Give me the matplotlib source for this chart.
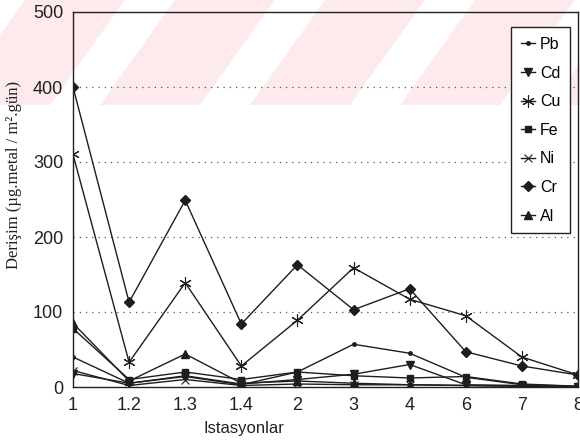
import matplotlib
matplotlib.use("Agg")
import matplotlib.pyplot as plt
from matplotlib.patches import Polygon, Rectangle

# Stations on the x axis (categorical, equally spaced)
stations = ['1', '1.2', '1.3', '1.4', '2', '3', '4', '6', '7', '8']

# Deposition values per metal (ug metal / m2 day)
pb = [40, 5, 14, 3, 20, 57, 45, 13, 3, 1]
cd = [18, 5, 15, 4, 10, 17, 30, 3, 2, 0]
cu = [310, 33, 139, 28, 89, 159, 117, 95, 40, 16]
fe = [78, 10, 20, 10, 20, 15, 12, 14, 4, 1]
ni = [22, 2, 10, 2, 4, 3, 3, 2, 1, 0]
cr = [400, 113, 249, 84, 163, 103, 131, 47, 28, 16]
al = [85, 8, 44, 5, 8, 5, 3, 2, 1, 0]

y_ticks = [0, 100, 200, 300, 400, 500]

fig = plt.figure(figsize=(5.8, 4.44), dpi=100)

# faint pink diagonal stripes across the top of the page
bg = fig.add_axes([0, 0, 1, 1], zorder=-1)
bg.set_xlim(0, 580)
bg.set_ylim(444, 0)
bg.axis('off')
bg.add_patch(Rectangle((0, 0), 580, 105, color='#fdeaec', lw=0))
for x0 in range(-100, 700, 150):
    bg.add_patch(Polygon([(x0, 105), (x0 + 50, 105), (x0 + 125, 0), (x0 + 75, 0)],
                         closed=True, color='white', lw=0))

ax = fig.add_axes([73 / 580, 1 - 387 / 444, 505 / 580, 375 / 444])
ax.patch.set_alpha(0)

xs = list(range(len(stations)))
line_kw = dict(color='#1e1e1e', lw=1.0, mec='#1e1e1e', mfc='#1e1e1e')
ax.plot(xs, pb, marker='o', ms=2.5, label='Pb', **line_kw)
ax.plot(xs, cd, marker='v', ms=6, label='Cd', **line_kw)
ax.plot(xs, cu, marker=(6, 2, 0), ms=9, mew=0.8, label='Cu', **line_kw)
ax.plot(xs, fe, marker='s', ms=5, label='Fe', **line_kw)
ax.plot(xs, ni, marker='x', ms=6, mew=0.8, label='Ni', **line_kw)
ax.plot(xs, cr, marker='D', ms=5, label='Cr', **line_kw)
ax.plot(xs, al, marker='^', ms=6, label='Al', **line_kw)

ax.set_xlim(0, len(stations) - 1)
ax.set_ylim(0, 500)
ax.set_xticks(xs)
ax.set_xticklabels(stations)
ax.set_yticks(y_ticks)
ax.tick_params(length=0, labelsize=13, colors='#222222', pad=7)
for lab in ax.get_xticklabels() + ax.get_yticklabels():
    lab.set_family('Liberation Sans')

for v in y_ticks[1:-1]:
    ax.axhline(v, color='#555555', lw=0.9, ls=(0, (1, 4)), zorder=0)

for s in ax.spines.values():
    s.set_color('#222222')
    s.set_linewidth(1.0)

ax.set_ylabel('Derişim (µg.metal / m².gün)', family='Liberation Serif',
              fontsize=12, color='#222222')
ax.yaxis.set_label_coords(-0.1, 0.565)
ax.set_xlabel('Istasyonlar', family='Liberation Sans', fontsize=12,
              color='#222222')
ax.xaxis.set_label_coords(0.339, -0.09)

leg = ax.legend(loc='upper right', bbox_to_anchor=(1.0, 0.98), fancybox=False,
                edgecolor='#222222', framealpha=1, handlelength=0.9,
                handletextpad=0.3, labelspacing=0.85, borderpad=0.6,
                prop={'family': 'Liberation Sans', 'size': 11.5})
leg.get_frame().set_linewidth(1.0)

fig.savefig('out.png', dpi=100)
